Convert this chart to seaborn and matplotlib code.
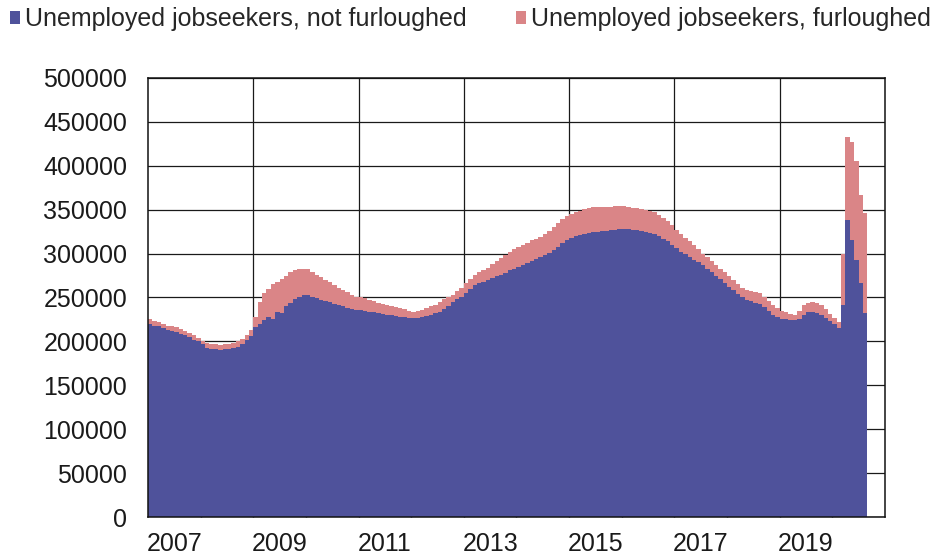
import numpy as np
import pandas as pd
import matplotlib
matplotlib.use("Agg")
import matplotlib.pyplot as plt
from matplotlib.patches import Patch
from matplotlib.ticker import FixedLocator, NullFormatter
import seaborn as sns

# Monthly data, Jan 2007 - Aug 2020 (thousands of persons)
not_furloughed_k = [
    # 2007
    220, 218, 217, 215, 213, 212, 211, 209, 207, 205, 202, 200,
    # 2008
    197, 193, 191, 191, 190, 191, 191, 192, 194, 197, 202, 206,
    # 2009
    216, 220, 224, 228, 226, 234, 232, 240, 244, 248, 250, 253,
    # 2010
    253, 250, 249, 247, 246, 245, 243, 241, 240, 238, 237, 236,
    # 2011
    236, 235, 234, 233, 232, 231, 230, 230, 229, 228, 228, 227,
    # 2012
    227, 227, 228, 229, 230, 232, 234, 237, 240, 245, 248, 251,
    # 2013
    255, 260, 264, 266, 268, 270, 272, 274, 276, 278, 281, 283,
    # 2014
    285, 287, 289, 291, 294, 296, 298, 301, 304, 308, 312, 316,
    # 2015
    318, 320, 321, 322, 323, 325, 325, 326, 326, 327, 327, 328,
    # 2016
    328, 328, 327, 327, 326, 325, 324, 322, 320, 317, 314, 310,
    # 2017
    306, 302, 299, 296, 293, 290, 287, 283, 279, 275, 271, 266,
    # 2018
    262, 258, 254, 250, 247, 246, 244, 243, 239, 235, 230, 228,
    # 2019
    226, 225, 224, 224, 226, 230, 233, 233, 232, 230, 227, 223,
    # 2020
    220, 215, 241, 338, 315, 293, 266, 232,
]
furloughed_k = [
    # 2007
    5, 5, 5, 5, 5, 5, 5, 5, 5, 5, 5, 4,
    # 2008
    3, 5, 6, 6, 6, 6, 6, 6, 6, 6, 5, 7,
    # 2009
    12, 25, 31, 32, 39, 34, 39, 35, 35, 33, 32, 30,
    # 2010
    30, 29, 27, 26, 24, 23, 21, 20, 18, 18, 16, 15,
    # 2011
    15, 14, 13, 13, 12, 12, 11, 10, 10, 10, 9, 8,
    # 2012
    7, 8, 8, 9, 10, 10, 11, 11, 11, 8, 9, 10,
    # 2013
    11, 11, 12, 13, 13, 14, 16, 18, 19, 20, 21, 22,
    # 2014
    22, 23, 23, 24, 23, 23, 24, 25, 26, 27, 27, 27,
    # 2015
    27, 27, 28, 29, 29, 28, 28, 27, 27, 26, 27, 26,
    # 2016
    26, 25, 25, 25, 25, 25, 25, 25, 24, 23, 23, 22,
    # 2017
    21, 20, 19, 18, 17, 15, 13, 13, 12, 12, 12, 13,
    # 2018
    13, 12, 11, 11, 11, 11, 12, 12, 11, 11, 11, 10,
    # 2019
    9, 8, 7, 6, 9, 11, 11, 12, 12, 11, 10, 8,
    # 2020
    7, 7, 59, 95, 112, 112, 101, 114,
]
series_names = ["Unemployed jobseekers, not furloughed",
                "Unemployed jobseekers, furloughed"]
series_colors = ["#4F529B", "#DA8587"]
year_labels = ["2007", "2009", "2011", "2013", "2015", "2017", "2019"]
y_ticks = [0, 50000, 100000, 150000, 200000, 250000, 300000, 350000, 400000, 450000, 500000]

start_year = 2007
n = len(not_furloughed_k)
months = np.arange(n)
x_years = start_year + months / 12.0
edges = [float(start_year + k / 12.0) for k in range(n + 1)]
df = pd.DataFrame({
    "x": x_years + 1 / 24.0,
    "not_furloughed": np.array(not_furloughed_k, dtype=float) * 1000,
    "furloughed": np.array(furloughed_k, dtype=float) * 1000,
})
df["total"] = df["not_furloughed"] + df["furloughed"]

sns.set_theme(style="white")
plt.rcParams["font.family"] = ["Liberation Sans", "DejaVu Sans"]
FS = 18

fig = plt.figure(figsize=(9.35, 5.59), dpi=100)
ax = fig.add_axes([0.1583, 0.0751, 0.9465 - 0.1583, 0.8605 - 0.0751])

sns.histplot(data=df, x="x", weights="total", bins=edges, element="step",
             fill=True, color=series_colors[1], alpha=1, linewidth=0, ax=ax)
sns.histplot(data=df, x="x", weights="not_furloughed", bins=edges, element="step",
             fill=True, color=series_colors[0], alpha=1, linewidth=0, ax=ax)

ax.set_xlim(2007, 2021)
ax.set_ylim(0, 500000)
ax.set_xlabel("")
ax.set_ylabel("")

# y axis
ax.yaxis.set_major_locator(FixedLocator(y_ticks))
ax.set_yticklabels([str(v) for v in y_ticks])
ax.tick_params(axis="y", length=0, pad=15, labelsize=FS, labelcolor="#1a1a1a")

# x axis: grid lines at odd years, small inward ticks every year
odd_years = [int(y) for y in year_labels[1:]]
even_years = list(range(2008, 2021, 2))
ax.xaxis.set_major_locator(FixedLocator(odd_years))
ax.xaxis.set_minor_locator(FixedLocator(even_years))
ax.xaxis.set_major_formatter(NullFormatter())
ax.xaxis.set_minor_formatter(NullFormatter())
ax.tick_params(axis="x", which="both", direction="in", length=5, width=1,
               color="#222244", bottom=True, top=False)

ax.set_axisbelow(True)
ax.grid(True, axis="y", color="#1a1a1a", linewidth=0.9)
ax.grid(True, axis="x", which="major", color="#1a1a1a", linewidth=0.9)
ax.grid(False, axis="x", which="minor")
for s in ax.spines.values():
    s.set_visible(True)
    s.set_color("#111111")
    s.set_linewidth(1.1)

# year labels centred in their year
trans = matplotlib.transforms.blended_transform_factory(ax.transData, ax.transAxes)
for lab in year_labels:
    ax.text(int(lab) + 0.5, -0.035, lab, transform=trans, ha="center", va="top",
            fontsize=FS, color="#1a1a1a")

handles = [Patch(facecolor=c, edgecolor="none") for c in series_colors]
fig.legend(handles, series_names, loc="upper left", bbox_to_anchor=(0.004, 0.998),
           ncol=2, frameon=False, fontsize=FS, handlelength=0.42, handleheight=0.42,
           handletextpad=0.2, columnspacing=1.95, borderaxespad=0.1, borderpad=0.15)

fig.savefig("out.png", dpi=100)
